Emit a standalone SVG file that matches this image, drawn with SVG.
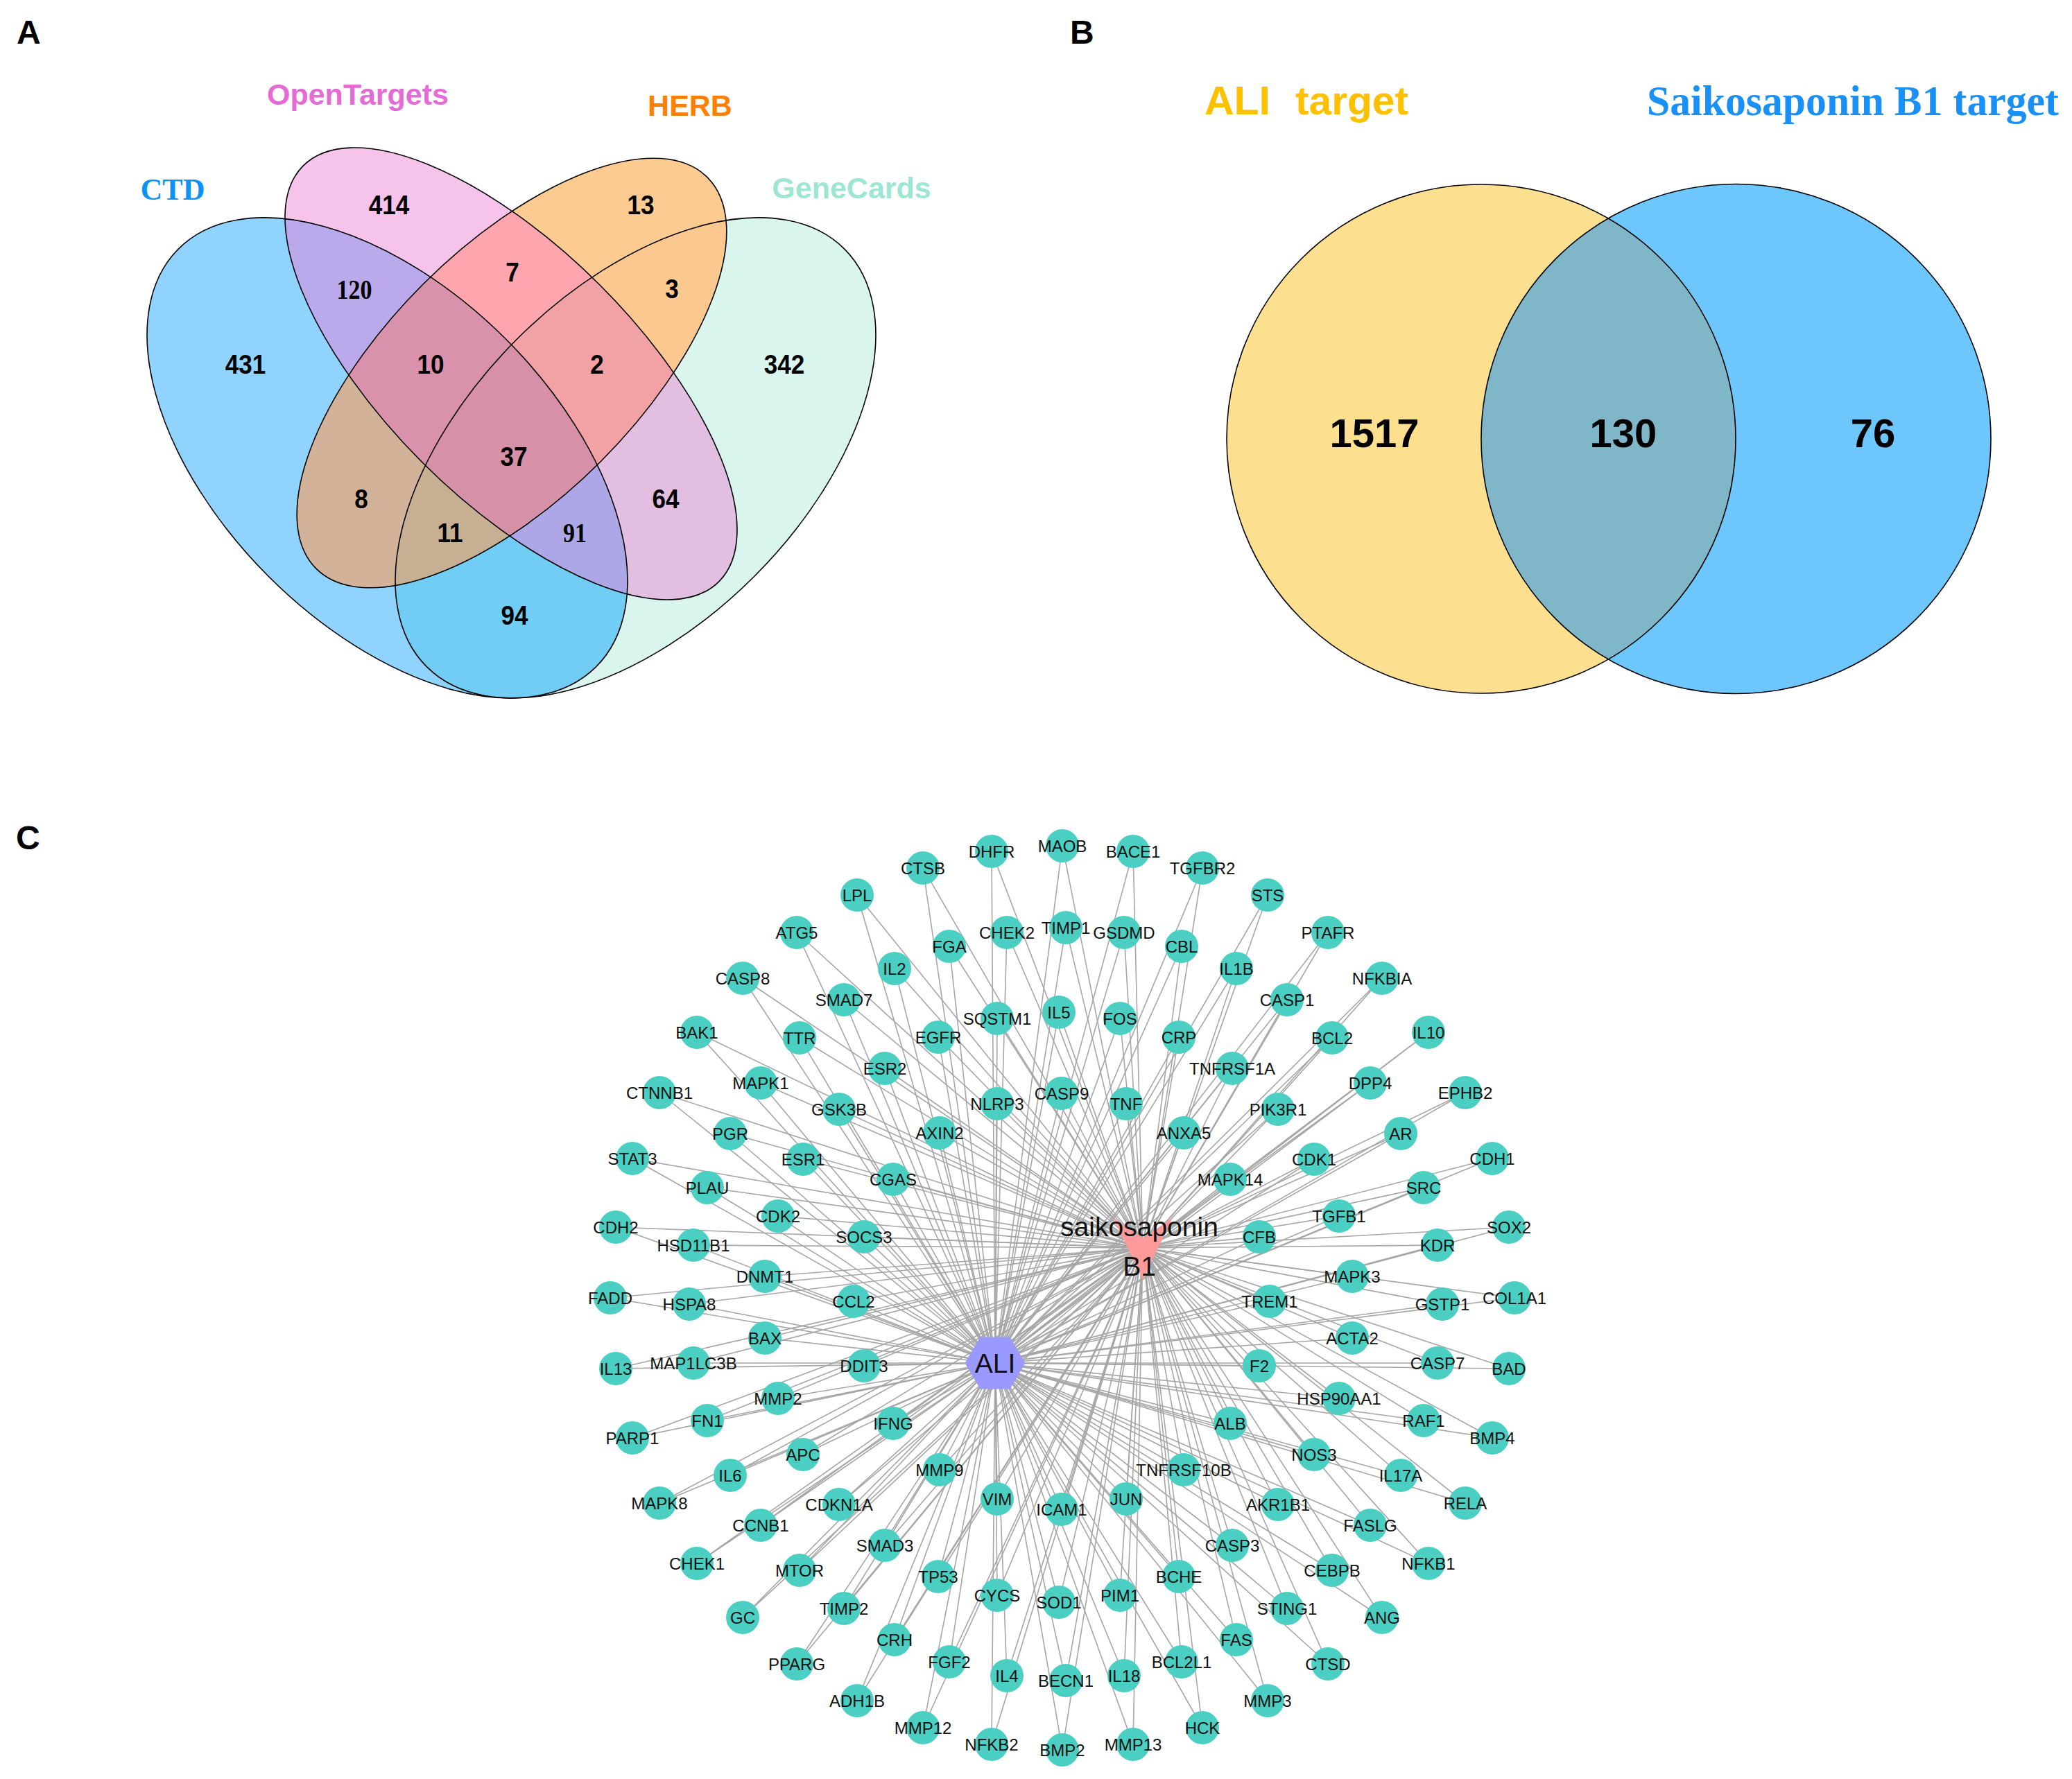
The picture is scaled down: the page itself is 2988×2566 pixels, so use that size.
<svg xmlns="http://www.w3.org/2000/svg" width="2988" height="2566" viewBox="0 0 2988 2566">
<style>
.panel{font-family:'Liberation Sans',Arial,sans-serif;font-weight:bold;font-size:48px;fill:#000}
.num{font-family:'Liberation Sans',Arial,sans-serif;font-weight:bold;font-size:38.5px;text-anchor:middle;fill:#000}
.numt{font-family:'Liberation Serif','Times New Roman',serif;font-weight:bold;font-size:40px;text-anchor:middle;fill:#000}
.bnum{font-family:'Liberation Sans',Arial,sans-serif;font-weight:bold;font-size:58px;text-anchor:middle;fill:#000}
.vlab{font-family:'Liberation Sans',Arial,sans-serif;font-weight:bold;font-size:43px;text-anchor:middle}
.outline{fill:none;stroke:#000;stroke-width:1.6}
.node circle{fill:#4ACFC2}
.node text{font-family:'Liberation Sans',Arial,sans-serif;font-size:24px;text-anchor:middle;fill:#111}
.hub text{font-family:'Liberation Sans',Arial,sans-serif;font-size:39px;text-anchor:middle;fill:#111}
.edges path{stroke:#a6a6a6;stroke-width:1.6;fill:none}
</style>
<defs>
<ellipse id="eCTD" cx="558.5" cy="660.4" rx="426" ry="242" transform="rotate(45 558.5 660.4)"/>
<ellipse id="eGC" cx="916.5" cy="660.4" rx="426" ry="242" transform="rotate(-45 916.5 660.4)"/>
<ellipse id="eOT" cx="737" cy="539" rx="424" ry="181" transform="rotate(45 737 539)"/>
<ellipse id="eHB" cx="738" cy="538" rx="399" ry="181" transform="rotate(-45 738 538)"/>
<clipPath id="cCTD"><use href="#eCTD"/></clipPath>
<clipPath id="cGC"><use href="#eGC"/></clipPath>
<clipPath id="cOT"><use href="#eOT"/></clipPath>
<clipPath id="cHB"><use href="#eHB"/></clipPath>
<clipPath id="cY"><circle cx="2136" cy="633" r="367"/></clipPath>
</defs>
<rect width="2988" height="2566" fill="#fff"/>

<!-- Panel A -->
<g id="panelA">
<text class="panel" x="24" y="63">A</text>
<g id="venn4-fills">
<use href="#eCTD" fill="#8FD3FE"/>
<use href="#eOT" fill="#F6C3EB"/>
<use href="#eHB" fill="#FCCB91"/>
<use href="#eGC" fill="#D9F5EE"/>
<g clip-path="url(#cCTD)"><use href="#eOT" fill="#BAA9EB"/></g>
<g clip-path="url(#cCTD)"><use href="#eHB" fill="#D2B298"/></g>
<g clip-path="url(#cCTD)"><use href="#eGC" fill="#72CDF4"/></g>
<g clip-path="url(#cOT)"><use href="#eHB" fill="#FEA5AE"/></g>
<g clip-path="url(#cOT)"><use href="#eGC" fill="#E2BFE1"/></g>
<g clip-path="url(#cHB)"><use href="#eGC" fill="#FBC98F"/></g>
<g clip-path="url(#cCTD)"><g clip-path="url(#cOT)"><use href="#eHB" fill="#DA92AC"/></g></g>
<g clip-path="url(#cCTD)"><g clip-path="url(#cOT)"><use href="#eGC" fill="#ADA7E8"/></g></g>
<g clip-path="url(#cCTD)"><g clip-path="url(#cHB)"><use href="#eGC" fill="#C6AF92"/></g></g>
<g clip-path="url(#cOT)"><g clip-path="url(#cHB)"><use href="#eGC" fill="#F2A1A5"/></g></g>
<g clip-path="url(#cCTD)"><g clip-path="url(#cOT)"><g clip-path="url(#cHB)"><use href="#eGC" fill="#D690A8"/></g></g></g>
</g>
<g id="venn4-outlines">
<use href="#eCTD" class="outline"/>
<use href="#eOT" class="outline"/>
<use href="#eHB" class="outline"/>
<use href="#eGC" class="outline"/>
</g>
<text class="vlab" x="516" y="151" fill="#E46BD5">OpenTargets</text>
<text class="vlab" x="995" y="167" fill="#FF8000">HERB</text>
<text x="249" y="288" font-family="'Liberation Serif','Times New Roman',serif" font-weight="bold" font-size="44" text-anchor="middle" fill="#0B93F6">CTD</text>
<text class="vlab" x="1228" y="286" fill="#9DE6D3">GeneCards</text>
<text class="num" transform="translate(561 309) scale(0.91 1)">414</text>
<text class="num" transform="translate(924 309) scale(0.91 1)">13</text>
<text class="num" transform="translate(739 406) scale(0.91 1)">7</text>
<text class="numt" transform="translate(511 431) scale(0.85 1)">120</text>
<text class="num" transform="translate(969 430) scale(0.91 1)">3</text>
<text class="num" transform="translate(354 539) scale(0.91 1)">431</text>
<text class="num" transform="translate(621 539) scale(0.91 1)">10</text>
<text class="num" transform="translate(861 539) scale(0.91 1)">2</text>
<text class="num" transform="translate(1131 539) scale(0.91 1)">342</text>
<text class="num" transform="translate(741 672) scale(0.91 1)">37</text>
<text class="num" transform="translate(521 733) scale(0.91 1)">8</text>
<text class="num" transform="translate(960 733) scale(0.91 1)">64</text>
<text class="num" transform="translate(649 782) scale(0.91 1)">11</text>
<text class="numt" transform="translate(829 782) scale(0.85 1)">91</text>
<text class="num" transform="translate(742 901) scale(0.91 1)">94</text>
</g>

<!-- Panel B -->
<g id="panelB">
<text class="panel" x="1543" y="63">B</text>
<text font-family="'Liberation Sans',Arial,sans-serif" font-weight="bold" font-size="57" fill="#FFC000" y="165"><tspan x="1737" textLength="95" lengthAdjust="spacingAndGlyphs">ALI</tspan><tspan x="1868" textLength="163" lengthAdjust="spacingAndGlyphs">target</tspan></text>
<text font-family="'Liberation Serif','Times New Roman',serif" font-weight="bold" font-size="62" fill="#1890F8" x="2375" y="166" textLength="594" lengthAdjust="spacingAndGlyphs">Saikosaponin B1 target</text>
<circle cx="2136" cy="633" r="367" fill="#FDE08F"/>
<circle cx="2503.5" cy="633" r="367.5" fill="#6EC7FC"/>
<circle cx="2503.5" cy="633" r="367.5" fill="#7FB7C8" clip-path="url(#cY)"/>
<circle cx="2136" cy="633" r="367" class="outline"/>
<circle cx="2503.5" cy="633" r="367.5" class="outline"/>
<text class="bnum" x="1982" y="645">1517</text>
<text class="bnum" x="2341" y="645">130</text>
<text class="bnum" x="2701" y="645">76</text>
</g>

<!-- Panel C -->
<text class="panel" x="23" y="1225">C</text>
<g id="connectors" class="edges">
<path d="M1531 1577L1435 1966M1531 1577L1648 1800"/>
<path d="M1624 1592L1435 1966M1624 1592L1648 1800"/>
<path d="M1707 1634L1435 1966M1707 1634L1648 1800"/>
<path d="M1774 1701L1435 1966M1774 1701L1648 1800"/>
<path d="M1816 1784L1435 1966M1816 1784L1648 1800"/>
<path d="M1831 1877L1435 1966M1831 1877L1648 1800"/>
<path d="M1816 1970L1435 1966M1816 1970L1648 1800"/>
<path d="M1774 2053L1435 1966M1774 2053L1648 1800"/>
<path d="M1707 2120L1435 1966M1707 2120L1648 1800"/>
<path d="M1624 2162L1435 1966M1624 2162L1648 1800"/>
<path d="M1531 2177L1435 1966M1531 2177L1648 1800"/>
<path d="M1438 2162L1435 1966M1438 2162L1648 1800"/>
<path d="M1355 2120L1435 1966M1355 2120L1648 1800"/>
<path d="M1288 2053L1435 1966M1288 2053L1648 1800"/>
<path d="M1246 1970L1435 1966M1246 1970L1648 1800"/>
<path d="M1231 1877L1435 1966M1231 1877L1648 1800"/>
<path d="M1246 1784L1435 1966M1246 1784L1648 1800"/>
<path d="M1288 1701L1435 1966M1288 1701L1648 1800"/>
<path d="M1355 1634L1435 1966M1355 1634L1648 1800"/>
<path d="M1438 1592L1435 1966M1438 1592L1648 1800"/>
<path d="M1527 1460L1435 1966M1527 1460L1648 1800"/>
<path d="M1615 1469L1435 1966M1615 1469L1648 1800"/>
<path d="M1700 1496L1435 1966M1700 1496L1648 1800"/>
<path d="M1777 1541L1435 1966M1777 1541L1648 1800"/>
<path d="M1843 1600L1435 1966M1843 1600L1648 1800"/>
<path d="M1895 1672L1435 1966M1895 1672L1648 1800"/>
<path d="M1931 1754L1435 1966M1931 1754L1648 1800"/>
<path d="M1950 1841L1435 1966M1950 1841L1648 1800"/>
<path d="M1950 1930L1435 1966M1950 1930L1648 1800"/>
<path d="M1931 2017L1435 1966M1931 2017L1648 1800"/>
<path d="M1895 2098L1435 1966M1895 2098L1648 1800"/>
<path d="M1843 2170L1435 1966M1843 2170L1648 1800"/>
<path d="M1777 2229L1435 1966M1777 2229L1648 1800"/>
<path d="M1700 2274L1435 1966M1700 2274L1648 1800"/>
<path d="M1615 2301L1435 1966M1615 2301L1648 1800"/>
<path d="M1527 2311L1435 1966M1527 2311L1648 1800"/>
<path d="M1438 2301L1435 1966M1438 2301L1648 1800"/>
<path d="M1353 2274L1435 1966M1353 2274L1648 1800"/>
<path d="M1276 2229L1435 1966M1276 2229L1648 1800"/>
<path d="M1210 2170L1435 1966M1210 2170L1648 1800"/>
<path d="M1158 2098L1435 1966M1158 2098L1648 1800"/>
<path d="M1122 2017L1435 1966M1122 2017L1648 1800"/>
<path d="M1103 1930L1435 1966M1103 1930L1648 1800"/>
<path d="M1103 1841L1435 1966M1103 1841L1648 1800"/>
<path d="M1122 1754L1435 1966M1122 1754L1648 1800"/>
<path d="M1158 1672L1435 1966M1158 1672L1648 1800"/>
<path d="M1210 1600L1435 1966M1210 1600L1648 1800"/>
<path d="M1276 1541L1435 1966M1276 1541L1648 1800"/>
<path d="M1353 1496L1435 1966M1353 1496L1648 1800"/>
<path d="M1438 1469L1435 1966M1438 1469L1648 1800"/>
<path d="M1537 1338L1435 1966M1537 1338L1648 1800"/>
<path d="M1621 1345L1435 1966M1621 1345L1648 1800"/>
<path d="M1704 1365L1435 1966M1704 1365L1648 1800"/>
<path d="M1783 1397L1435 1966M1783 1397L1648 1800"/>
<path d="M1856 1442L1435 1966M1856 1442L1648 1800"/>
<path d="M1921 1497L1435 1966M1921 1497L1648 1800"/>
<path d="M1976 1562L1435 1966M1976 1562L1648 1800"/>
<path d="M2020 1635L1435 1966M2020 1635L1648 1800"/>
<path d="M2053 1713L1435 1966M2053 1713L1648 1800"/>
<path d="M2073 1796L1435 1966M2073 1796L1648 1800"/>
<path d="M2080 1881L1435 1966M2080 1881L1648 1800"/>
<path d="M2073 1966L1435 1966M2073 1966L1648 1800"/>
<path d="M2053 2049L1435 1966M2053 2049L1648 1800"/>
<path d="M2020 2128L1435 1966M2020 2128L1648 1800"/>
<path d="M1976 2200L1435 1966M1976 2200L1648 1800"/>
<path d="M1921 2265L1435 1966M1921 2265L1648 1800"/>
<path d="M1856 2320L1435 1966M1856 2320L1648 1800"/>
<path d="M1783 2365L1435 1966M1783 2365L1648 1800"/>
<path d="M1704 2397L1435 1966M1704 2397L1648 1800"/>
<path d="M1621 2417L1435 1966M1621 2417L1648 1800"/>
<path d="M1537 2424L1435 1966M1537 2424L1648 1800"/>
<path d="M1452 2417L1435 1966M1452 2417L1648 1800"/>
<path d="M1369 2397L1435 1966M1369 2397L1648 1800"/>
<path d="M1290 2365L1435 1966M1290 2365L1648 1800"/>
<path d="M1217 2320L1435 1966M1217 2320L1648 1800"/>
<path d="M1153 2265L1435 1966M1153 2265L1648 1800"/>
<path d="M1097 2200L1435 1966M1097 2200L1648 1800"/>
<path d="M1053 2128L1435 1966M1053 2128L1648 1800"/>
<path d="M1020 2049L1435 1966M1020 2049L1648 1800"/>
<path d="M1000 1966L1435 1966M1000 1966L1648 1800"/>
<path d="M994 1881L1435 1966M994 1881L1648 1800"/>
<path d="M1000 1796L1435 1966M1000 1796L1648 1800"/>
<path d="M1020 1713L1435 1966M1020 1713L1648 1800"/>
<path d="M1053 1635L1435 1966M1053 1635L1648 1800"/>
<path d="M1097 1562L1435 1966M1097 1562L1648 1800"/>
<path d="M1153 1497L1435 1966M1153 1497L1648 1800"/>
<path d="M1217 1442L1435 1966M1217 1442L1648 1800"/>
<path d="M1290 1397L1435 1966M1290 1397L1648 1800"/>
<path d="M1369 1365L1435 1966M1369 1365L1648 1800"/>
<path d="M1452 1345L1435 1966M1452 1345L1648 1800"/>
<path d="M1532 1220L1435 1966M1532 1220L1648 1800"/>
<path d="M1634 1228L1435 1966M1634 1228L1648 1800"/>
<path d="M1734 1252L1435 1966M1734 1252L1648 1800"/>
<path d="M1828 1291L1435 1966M1828 1291L1648 1800"/>
<path d="M1915 1345L1435 1966M1915 1345L1648 1800"/>
<path d="M1993 1411L1435 1966M1993 1411L1648 1800"/>
<path d="M2060 1489L1435 1966M2060 1489L1648 1800"/>
<path d="M2113 1576L1435 1966M2113 1576L1648 1800"/>
<path d="M2152 1671L1435 1966M2152 1671L1648 1800"/>
<path d="M2176 1770L1435 1966M2176 1770L1648 1800"/>
<path d="M2184 1872L1435 1966M2184 1872L1648 1800"/>
<path d="M2176 1974L1435 1966M2176 1974L1648 1800"/>
<path d="M2152 2074L1435 1966M2152 2074L1648 1800"/>
<path d="M2113 2168L1435 1966M2113 2168L1648 1800"/>
<path d="M2060 2255L1435 1966M2060 2255L1648 1800"/>
<path d="M1993 2333L1435 1966M1993 2333L1648 1800"/>
<path d="M1915 2400L1435 1966M1915 2400L1648 1800"/>
<path d="M1828 2453L1435 1966M1828 2453L1648 1800"/>
<path d="M1734 2492L1435 1966M1734 2492L1648 1800"/>
<path d="M1634 2516L1435 1966M1634 2516L1648 1800"/>
<path d="M1532 2524L1435 1966M1532 2524L1648 1800"/>
<path d="M1430 2516L1435 1966M1430 2516L1648 1800"/>
<path d="M1331 2492L1435 1966M1331 2492L1648 1800"/>
<path d="M1236 2453L1435 1966M1236 2453L1648 1800"/>
<path d="M1149 2400L1435 1966M1149 2400L1648 1800"/>
<path d="M1071 2333L1435 1966M1071 2333L1648 1800"/>
<path d="M1005 2255L1435 1966M1005 2255L1648 1800"/>
<path d="M951 2168L1435 1966M951 2168L1648 1800"/>
<path d="M912 2074L1435 1966M912 2074L1648 1800"/>
<path d="M888 1974L1435 1966M888 1974L1648 1800"/>
<path d="M880 1872L1435 1966M880 1872L1648 1800"/>
<path d="M888 1770L1435 1966M888 1770L1648 1800"/>
<path d="M912 1671L1435 1966M912 1671L1648 1800"/>
<path d="M951 1576L1435 1966M951 1576L1648 1800"/>
<path d="M1005 1489L1435 1966M1005 1489L1648 1800"/>
<path d="M1071 1411L1435 1966M1071 1411L1648 1800"/>
<path d="M1149 1345L1435 1966M1149 1345L1648 1800"/>
<path d="M1236 1291L1435 1966M1236 1291L1648 1800"/>
<path d="M1331 1252L1435 1966M1331 1252L1648 1800"/>
<path d="M1430 1228L1435 1966M1430 1228L1648 1800"/>
</g>

<g id="hub-ALI" class="hub"><polygon points="1391.5,1966 1413.5,1928.5 1456.5,1928.5 1478.5,1966 1456.5,2003.5 1413.5,2003.5" fill="#9999FF"/><text x="1435" y="1980" font-size="38">ALI</text></g>
<g id="hub-SB1" class="hub"><polygon points="1605,1756.5 1648,1786 1691,1756.5 1648,1845" fill="#FF9A9A"/><text x="1643" y="1783">saikosaponin</text><text x="1643" y="1840">B1</text></g>

<g id="nodes">
<g id="n_CASP9" class="node" transform="translate(1531 1577)"><circle r="24"/><text y="8.5">CASP9</text></g>
<g id="n_TNF" class="node" transform="translate(1624 1592)"><circle r="24"/><text y="8.5">TNF</text></g>
<g id="n_ANXA5" class="node" transform="translate(1707 1634)"><circle r="24"/><text y="8.5">ANXA5</text></g>
<g id="n_MAPK14" class="node" transform="translate(1774 1701)"><circle r="24"/><text y="8.5">MAPK14</text></g>
<g id="n_CFB" class="node" transform="translate(1816 1784)"><circle r="24"/><text y="8.5">CFB</text></g>
<g id="n_TREM1" class="node" transform="translate(1831 1877)"><circle r="24"/><text y="8.5">TREM1</text></g>
<g id="n_F2" class="node" transform="translate(1816 1970)"><circle r="24"/><text y="8.5">F2</text></g>
<g id="n_ALB" class="node" transform="translate(1774 2053)"><circle r="24"/><text y="8.5">ALB</text></g>
<g id="n_TNFRSF10B" class="node" transform="translate(1707 2120)"><circle r="24"/><text y="8.5">TNFRSF10B</text></g>
<g id="n_JUN" class="node" transform="translate(1624 2162)"><circle r="24"/><text y="8.5">JUN</text></g>
<g id="n_ICAM1" class="node" transform="translate(1531 2177)"><circle r="24"/><text y="8.5">ICAM1</text></g>
<g id="n_VIM" class="node" transform="translate(1438 2162)"><circle r="24"/><text y="8.5">VIM</text></g>
<g id="n_MMP9" class="node" transform="translate(1355 2120)"><circle r="24"/><text y="8.5">MMP9</text></g>
<g id="n_IFNG" class="node" transform="translate(1288 2053)"><circle r="24"/><text y="8.5">IFNG</text></g>
<g id="n_DDIT3" class="node" transform="translate(1246 1970)"><circle r="24"/><text y="8.5">DDIT3</text></g>
<g id="n_CCL2" class="node" transform="translate(1231 1877)"><circle r="24"/><text y="8.5">CCL2</text></g>
<g id="n_SOCS3" class="node" transform="translate(1246 1784)"><circle r="24"/><text y="8.5">SOCS3</text></g>
<g id="n_CGAS" class="node" transform="translate(1288 1701)"><circle r="24"/><text y="8.5">CGAS</text></g>
<g id="n_AXIN2" class="node" transform="translate(1355 1634)"><circle r="24"/><text y="8.5">AXIN2</text></g>
<g id="n_NLRP3" class="node" transform="translate(1438 1592)"><circle r="24"/><text y="8.5">NLRP3</text></g>
<g id="n_IL5" class="node" transform="translate(1527 1460)"><circle r="24"/><text y="8.5">IL5</text></g>
<g id="n_FOS" class="node" transform="translate(1615 1469)"><circle r="24"/><text y="8.5">FOS</text></g>
<g id="n_CRP" class="node" transform="translate(1700 1496)"><circle r="24"/><text y="8.5">CRP</text></g>
<g id="n_TNFRSF1A" class="node" transform="translate(1777 1541)"><circle r="24"/><text y="8.5">TNFRSF1A</text></g>
<g id="n_PIK3R1" class="node" transform="translate(1843 1600)"><circle r="24"/><text y="8.5">PIK3R1</text></g>
<g id="n_CDK1" class="node" transform="translate(1895 1672)"><circle r="24"/><text y="8.5">CDK1</text></g>
<g id="n_TGFB1" class="node" transform="translate(1931 1754)"><circle r="24"/><text y="8.5">TGFB1</text></g>
<g id="n_MAPK3" class="node" transform="translate(1950 1841)"><circle r="24"/><text y="8.5">MAPK3</text></g>
<g id="n_ACTA2" class="node" transform="translate(1950 1930)"><circle r="24"/><text y="8.5">ACTA2</text></g>
<g id="n_HSP90AA1" class="node" transform="translate(1931 2017)"><circle r="24"/><text y="8.5">HSP90AA1</text></g>
<g id="n_NOS3" class="node" transform="translate(1895 2098)"><circle r="24"/><text y="8.5">NOS3</text></g>
<g id="n_AKR1B1" class="node" transform="translate(1843 2170)"><circle r="24"/><text y="8.5">AKR1B1</text></g>
<g id="n_CASP3" class="node" transform="translate(1777 2229)"><circle r="24"/><text y="8.5">CASP3</text></g>
<g id="n_BCHE" class="node" transform="translate(1700 2274)"><circle r="24"/><text y="8.5">BCHE</text></g>
<g id="n_PIM1" class="node" transform="translate(1615 2301)"><circle r="24"/><text y="8.5">PIM1</text></g>
<g id="n_SOD1" class="node" transform="translate(1527 2311)"><circle r="24"/><text y="8.5">SOD1</text></g>
<g id="n_CYCS" class="node" transform="translate(1438 2301)"><circle r="24"/><text y="8.5">CYCS</text></g>
<g id="n_TP53" class="node" transform="translate(1353 2274)"><circle r="24"/><text y="8.5">TP53</text></g>
<g id="n_SMAD3" class="node" transform="translate(1276 2229)"><circle r="24"/><text y="8.5">SMAD3</text></g>
<g id="n_CDKN1A" class="node" transform="translate(1210 2170)"><circle r="24"/><text y="8.5">CDKN1A</text></g>
<g id="n_APC" class="node" transform="translate(1158 2098)"><circle r="24"/><text y="8.5">APC</text></g>
<g id="n_MMP2" class="node" transform="translate(1122 2017)"><circle r="24"/><text y="8.5">MMP2</text></g>
<g id="n_BAX" class="node" transform="translate(1103 1930)"><circle r="24"/><text y="8.5">BAX</text></g>
<g id="n_DNMT1" class="node" transform="translate(1103 1841)"><circle r="24"/><text y="8.5">DNMT1</text></g>
<g id="n_CDK2" class="node" transform="translate(1122 1754)"><circle r="24"/><text y="8.5">CDK2</text></g>
<g id="n_ESR1" class="node" transform="translate(1158 1672)"><circle r="24"/><text y="8.5">ESR1</text></g>
<g id="n_GSK3B" class="node" transform="translate(1210 1600)"><circle r="24"/><text y="8.5">GSK3B</text></g>
<g id="n_ESR2" class="node" transform="translate(1276 1541)"><circle r="24"/><text y="8.5">ESR2</text></g>
<g id="n_EGFR" class="node" transform="translate(1353 1496)"><circle r="24"/><text y="8.5">EGFR</text></g>
<g id="n_SQSTM1" class="node" transform="translate(1438 1469)"><circle r="24"/><text y="8.5">SQSTM1</text></g>
<g id="n_TIMP1" class="node" transform="translate(1537 1338)"><circle r="24"/><text y="8.5">TIMP1</text></g>
<g id="n_GSDMD" class="node" transform="translate(1621 1345)"><circle r="24"/><text y="8.5">GSDMD</text></g>
<g id="n_CBL" class="node" transform="translate(1704 1365)"><circle r="24"/><text y="8.5">CBL</text></g>
<g id="n_IL1B" class="node" transform="translate(1783 1397)"><circle r="24"/><text y="8.5">IL1B</text></g>
<g id="n_CASP1" class="node" transform="translate(1856 1442)"><circle r="24"/><text y="8.5">CASP1</text></g>
<g id="n_BCL2" class="node" transform="translate(1921 1497)"><circle r="24"/><text y="8.5">BCL2</text></g>
<g id="n_DPP4" class="node" transform="translate(1976 1562)"><circle r="24"/><text y="8.5">DPP4</text></g>
<g id="n_AR" class="node" transform="translate(2020 1635)"><circle r="24"/><text y="8.5">AR</text></g>
<g id="n_SRC" class="node" transform="translate(2053 1713)"><circle r="24"/><text y="8.5">SRC</text></g>
<g id="n_KDR" class="node" transform="translate(2073 1796)"><circle r="24"/><text y="8.5">KDR</text></g>
<g id="n_GSTP1" class="node" transform="translate(2080 1881)"><circle r="24"/><text y="8.5">GSTP1</text></g>
<g id="n_CASP7" class="node" transform="translate(2073 1966)"><circle r="24"/><text y="8.5">CASP7</text></g>
<g id="n_RAF1" class="node" transform="translate(2053 2049)"><circle r="24"/><text y="8.5">RAF1</text></g>
<g id="n_IL17A" class="node" transform="translate(2020 2128)"><circle r="24"/><text y="8.5">IL17A</text></g>
<g id="n_FASLG" class="node" transform="translate(1976 2200)"><circle r="24"/><text y="8.5">FASLG</text></g>
<g id="n_CEBPB" class="node" transform="translate(1921 2265)"><circle r="24"/><text y="8.5">CEBPB</text></g>
<g id="n_STING1" class="node" transform="translate(1856 2320)"><circle r="24"/><text y="8.5">STING1</text></g>
<g id="n_FAS" class="node" transform="translate(1783 2365)"><circle r="24"/><text y="8.5">FAS</text></g>
<g id="n_BCL2L1" class="node" transform="translate(1704 2397)"><circle r="24"/><text y="8.5">BCL2L1</text></g>
<g id="n_IL18" class="node" transform="translate(1621 2417)"><circle r="24"/><text y="8.5">IL18</text></g>
<g id="n_BECN1" class="node" transform="translate(1537 2424)"><circle r="24"/><text y="8.5">BECN1</text></g>
<g id="n_IL4" class="node" transform="translate(1452 2417)"><circle r="24"/><text y="8.5">IL4</text></g>
<g id="n_FGF2" class="node" transform="translate(1369 2397)"><circle r="24"/><text y="8.5">FGF2</text></g>
<g id="n_CRH" class="node" transform="translate(1290 2365)"><circle r="24"/><text y="8.5">CRH</text></g>
<g id="n_TIMP2" class="node" transform="translate(1217 2320)"><circle r="24"/><text y="8.5">TIMP2</text></g>
<g id="n_MTOR" class="node" transform="translate(1153 2265)"><circle r="24"/><text y="8.5">MTOR</text></g>
<g id="n_CCNB1" class="node" transform="translate(1097 2200)"><circle r="24"/><text y="8.5">CCNB1</text></g>
<g id="n_IL6" class="node" transform="translate(1053 2128)"><circle r="24"/><text y="8.5">IL6</text></g>
<g id="n_FN1" class="node" transform="translate(1020 2049)"><circle r="24"/><text y="8.5">FN1</text></g>
<g id="n_MAP1LC3B" class="node" transform="translate(1000 1966)"><circle r="24"/><text y="8.5">MAP1LC3B</text></g>
<g id="n_HSPA8" class="node" transform="translate(994 1881)"><circle r="24"/><text y="8.5">HSPA8</text></g>
<g id="n_HSD11B1" class="node" transform="translate(1000 1796)"><circle r="24"/><text y="8.5">HSD11B1</text></g>
<g id="n_PLAU" class="node" transform="translate(1020 1713)"><circle r="24"/><text y="8.5">PLAU</text></g>
<g id="n_PGR" class="node" transform="translate(1053 1635)"><circle r="24"/><text y="8.5">PGR</text></g>
<g id="n_MAPK1" class="node" transform="translate(1097 1562)"><circle r="24"/><text y="8.5">MAPK1</text></g>
<g id="n_TTR" class="node" transform="translate(1153 1497)"><circle r="24"/><text y="8.5">TTR</text></g>
<g id="n_SMAD7" class="node" transform="translate(1217 1442)"><circle r="24"/><text y="8.5">SMAD7</text></g>
<g id="n_IL2" class="node" transform="translate(1290 1397)"><circle r="24"/><text y="8.5">IL2</text></g>
<g id="n_FGA" class="node" transform="translate(1369 1365)"><circle r="24"/><text y="8.5">FGA</text></g>
<g id="n_CHEK2" class="node" transform="translate(1452 1345)"><circle r="24"/><text y="8.5">CHEK2</text></g>
<g id="n_MAOB" class="node" transform="translate(1532 1220)"><circle r="24"/><text y="8.5">MAOB</text></g>
<g id="n_BACE1" class="node" transform="translate(1634 1228)"><circle r="24"/><text y="8.5">BACE1</text></g>
<g id="n_TGFBR2" class="node" transform="translate(1734 1252)"><circle r="24"/><text y="8.5">TGFBR2</text></g>
<g id="n_STS" class="node" transform="translate(1828 1291)"><circle r="24"/><text y="8.5">STS</text></g>
<g id="n_PTAFR" class="node" transform="translate(1915 1345)"><circle r="24"/><text y="8.5">PTAFR</text></g>
<g id="n_NFKBIA" class="node" transform="translate(1993 1411)"><circle r="24"/><text y="8.5">NFKBIA</text></g>
<g id="n_IL10" class="node" transform="translate(2060 1489)"><circle r="24"/><text y="8.5">IL10</text></g>
<g id="n_EPHB2" class="node" transform="translate(2113 1576)"><circle r="24"/><text y="8.5">EPHB2</text></g>
<g id="n_CDH1" class="node" transform="translate(2152 1671)"><circle r="24"/><text y="8.5">CDH1</text></g>
<g id="n_SOX2" class="node" transform="translate(2176 1770)"><circle r="24"/><text y="8.5">SOX2</text></g>
<g id="n_COL1A1" class="node" transform="translate(2184 1872)"><circle r="24"/><text y="8.5">COL1A1</text></g>
<g id="n_BAD" class="node" transform="translate(2176 1974)"><circle r="24"/><text y="8.5">BAD</text></g>
<g id="n_BMP4" class="node" transform="translate(2152 2074)"><circle r="24"/><text y="8.5">BMP4</text></g>
<g id="n_RELA" class="node" transform="translate(2113 2168)"><circle r="24"/><text y="8.5">RELA</text></g>
<g id="n_NFKB1" class="node" transform="translate(2060 2255)"><circle r="24"/><text y="8.5">NFKB1</text></g>
<g id="n_ANG" class="node" transform="translate(1993 2333)"><circle r="24"/><text y="8.5">ANG</text></g>
<g id="n_CTSD" class="node" transform="translate(1915 2400)"><circle r="24"/><text y="8.5">CTSD</text></g>
<g id="n_MMP3" class="node" transform="translate(1828 2453)"><circle r="24"/><text y="8.5">MMP3</text></g>
<g id="n_HCK" class="node" transform="translate(1734 2492)"><circle r="24"/><text y="8.5">HCK</text></g>
<g id="n_MMP13" class="node" transform="translate(1634 2516)"><circle r="24"/><text y="8.5">MMP13</text></g>
<g id="n_BMP2" class="node" transform="translate(1532 2524)"><circle r="24"/><text y="8.5">BMP2</text></g>
<g id="n_NFKB2" class="node" transform="translate(1430 2516)"><circle r="24"/><text y="8.5">NFKB2</text></g>
<g id="n_MMP12" class="node" transform="translate(1331 2492)"><circle r="24"/><text y="8.5">MMP12</text></g>
<g id="n_ADH1B" class="node" transform="translate(1236 2453)"><circle r="24"/><text y="8.5">ADH1B</text></g>
<g id="n_PPARG" class="node" transform="translate(1149 2400)"><circle r="24"/><text y="8.5">PPARG</text></g>
<g id="n_GC" class="node" transform="translate(1071 2333)"><circle r="24"/><text y="8.5">GC</text></g>
<g id="n_CHEK1" class="node" transform="translate(1005 2255)"><circle r="24"/><text y="8.5">CHEK1</text></g>
<g id="n_MAPK8" class="node" transform="translate(951 2168)"><circle r="24"/><text y="8.5">MAPK8</text></g>
<g id="n_PARP1" class="node" transform="translate(912 2074)"><circle r="24"/><text y="8.5">PARP1</text></g>
<g id="n_IL13" class="node" transform="translate(888 1974)"><circle r="24"/><text y="8.5">IL13</text></g>
<g id="n_FADD" class="node" transform="translate(880 1872)"><circle r="24"/><text y="8.5">FADD</text></g>
<g id="n_CDH2" class="node" transform="translate(888 1770)"><circle r="24"/><text y="8.5">CDH2</text></g>
<g id="n_STAT3" class="node" transform="translate(912 1671)"><circle r="24"/><text y="8.5">STAT3</text></g>
<g id="n_CTNNB1" class="node" transform="translate(951 1576)"><circle r="24"/><text y="8.5">CTNNB1</text></g>
<g id="n_BAK1" class="node" transform="translate(1005 1489)"><circle r="24"/><text y="8.5">BAK1</text></g>
<g id="n_CASP8" class="node" transform="translate(1071 1411)"><circle r="24"/><text y="8.5">CASP8</text></g>
<g id="n_ATG5" class="node" transform="translate(1149 1345)"><circle r="24"/><text y="8.5">ATG5</text></g>
<g id="n_LPL" class="node" transform="translate(1236 1291)"><circle r="24"/><text y="8.5">LPL</text></g>
<g id="n_CTSB" class="node" transform="translate(1331 1252)"><circle r="24"/><text y="8.5">CTSB</text></g>
<g id="n_DHFR" class="node" transform="translate(1430 1228)"><circle r="24"/><text y="8.5">DHFR</text></g>
</g>
</svg>
